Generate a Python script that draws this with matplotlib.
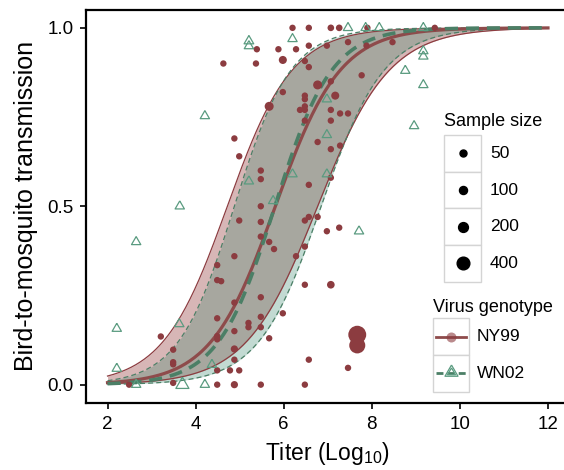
"""
Bird-to-mosquito transmission vs. viraemia titer, NY99 vs WN02 genotypes.
Logistic fits with confidence bands plus observed points sized by sample size.
"""

import numpy as np
import matplotlib
matplotlib.use("Agg")
import matplotlib.pyplot as plt
from matplotlib.patches import Rectangle
from matplotlib.lines import Line2D

plt.rcParams['font.family'] = ['Liberation Sans', 'DejaVu Sans']
plt.rcParams['mathtext.fontset'] = 'custom'
plt.rcParams['mathtext.rm'] = 'Liberation Sans'

# -----------------------------------------------------------------------
# Data
# -----------------------------------------------------------------------

# NY99 observations: titer, proportion transmitting, sample size
ny_x = [6.20, 6.57, 7.07, 7.26, 7.90, 9.43,
        6.57, 6.98, 7.46, 7.88, 8.47,
        5.39, 5.88, 6.28,
        4.63, 5.37, 5.98, 6.48, 6.57,
        7.77,
        5.98, 6.77, 7.07, 7.17,
        6.48, 6.48, 6.48, 6.48, 6.37,
        7.07, 7.28, 7.46,
        6.48, 7.07,
        5.67,
        4.88, 4.99,
        6.77, 7.07, 7.28,
        5.48, 5.48,
        6.57, 7.07,
        5.48,
        4.99, 5.48, 6.48, 6.57, 6.77,
        6.98, 7.26,
        5.48, 5.67, 5.78,
        6.48, 6.28,
        4.88,
        4.49,
        4.49, 4.58,
        6.48, 7.07,
        4.88, 5.48,
        5.98,
        4.49,
        5.20, 5.20,
        5.48, 5.48,
        4.88,
        4.49, 4.49,
        5.67,
        3.21,
        3.49,
        4.88, 4.88,
        3.49, 3.49,
        6.57,
        4.49, 4.78, 4.99,
        7.46,
        3.49,
        2.49,
        4.49, 4.88, 5.48, 6.48,
        7.67, 7.67]
ny_y = [1.00, 1.00, 1.00, 1.00, 1.00, 1.00,
        0.95, 0.95, 0.96, 0.95, 0.96,
        0.94, 0.94, 0.94,
        0.90, 0.90, 0.91, 0.907, 0.89,
        0.867,
        0.82, 0.84, 0.85, 0.81,
        0.81, 0.80, 0.78, 0.77, 0.77,
        0.77, 0.76, 0.76,
        0.74, 0.74,
        0.78,
        0.69, 0.64,
        0.68, 0.66, 0.67,
        0.60, 0.576,
        0.56, 0.58,
        0.50,
        0.46, 0.456, 0.46, 0.47, 0.47,
        0.43, 0.44,
        0.415, 0.40, 0.38,
        0.387, 0.36,
        0.36,
        0.335,
        0.293, 0.29,
        0.28, 0.28,
        0.23, 0.245,
        0.20,
        0.186,
        0.173, 0.161,
        0.19, 0.161,
        0.15,
        0.136, 0.127,
        0.13,
        0.135,
        0.098,
        0.10, 0.07,
        0.063, 0.057,
        0.07,
        0.04, 0.04, 0.04,
        0.047,
        0.005,
        0.0,
        0.0, 0.0, 0.0, 0.0,
        0.14, 0.11]
ny_n = [25, 25, 35, 35, 25, 25,
        25, 25, 25, 25, 25,
        25, 25, 25,
        25, 25, 100, 25, 25,
        25,
        25, 150, 25, 100,
        25, 25, 25, 25, 25,
        25, 25, 25,
        25, 25,
        150,
        25, 25,
        25, 25, 25,
        25, 25,
        25, 25,
        25,
        25, 25, 25, 25, 25,
        25, 25,
        25, 25, 25,
        25, 25,
        25,
        25,
        25, 25,
        25, 80,
        25, 25,
        25,
        25,
        25, 25,
        25, 25,
        25,
        25, 25,
        25,
        25,
        25,
        60, 25,
        25, 25,
        25,
        25, 25, 25,
        25,
        25,
        25,
        25, 60, 25, 25,
        900, 700]

# WN02 observations
wn_x = [5.21, 5.21, 6.20, 7.46, 7.86, 8.17, 9.17,
        9.17, 9.17, 8.76, 9.17, 8.96,
        4.21,
        6.98, 6.98, 6.98, 6.20, 5.21, 5.76, 3.64,
        7.71,
        2.65,
        3.63,
        2.21,
        2.21,
        4.37,
        2.65, 3.70, 4.21]
wn_y = [0.963, 0.949, 0.969, 1.00, 1.00, 1.00, 1.00,
        0.935, 0.92, 0.88, 0.84, 0.725,
        0.753,
        0.80, 0.70, 0.59, 0.59, 0.57, 0.515, 0.50,
        0.43,
        0.40,
        0.17,
        0.157,
        0.045,
        0.056,
        0.0, 0.0, 0.0]
wn_n = [35, 25, 25, 25, 25, 25, 25,
        25, 25, 25, 25, 25,
        25,
        25, 25, 25, 25, 25, 25, 25,
        25,
        25,
        25,
        25,
        25,
        25,
        25, 150, 25]

# Logistic fits: (midpoint titer, slope)
ny_fit = (5.81, 1.36)
ny_upper = (4.72, 1.36)
ny_lower = (6.77, 1.23)
wn_fit = (5.80, 1.55)
wn_upper = (4.88, 1.56)
wn_lower = (6.85, 1.40)
titer_range = (2, 12)

size_breaks = [50, 100, 200, 400]
genotypes = ["NY99", "WN02"]

# -----------------------------------------------------------------------
# Styling
# -----------------------------------------------------------------------

RED_PT = "#8C3C40"
RED_LINE = "#8E4B4B"
RED_FILL = (125 / 255, 15 / 255, 15 / 255)
GREEN_PT = "#5A9B80"
GREEN_LINE = "#4B7F66"
GREEN_FILL = (56 / 255, 133 / 255, 107 / 255)
BOX_EDGE = "#D4D4D4"

W, H = 564, 470


def diam_px(n):
    """Marker diameter in pixels for a given sample size (area scale)."""
    return np.sqrt(33 + 0.32 * np.asarray(n, dtype=float))


def circle_s(n):
    return (0.72 * diam_px(n)) ** 2


TRI = [(0, 0.577), (-0.5, -0.289), (0.5, -0.289), (0, 0.577)]


def tri_s(n):
    width_pt = 1.45 * diam_px(n) * 0.72
    return (width_pt / 0.866) ** 2


def logistic(x, fit):
    mid, slope = fit
    return 1 / (1 + np.exp(-slope * (x - mid)))


def fx(px):
    return px / W


def fy(py):
    return 1 - py / H


# -----------------------------------------------------------------------
# Plot
# -----------------------------------------------------------------------

fig = plt.figure(figsize=(W / 100, H / 100), dpi=100)
ax = fig.add_axes([fx(85.5), fy(402.5), (570 - 85.5) / W, (402.5 - 10) / H])

xs = np.linspace(titer_range[0], titer_range[1], 300)

# confidence bands
ax.fill_between(xs, logistic(xs, ny_lower), logistic(xs, ny_upper),
                color=RED_FILL, alpha=0.3, lw=0, zorder=1)
ax.fill_between(xs, logistic(xs, wn_lower), logistic(xs, wn_upper),
                color=GREEN_FILL, alpha=0.3, lw=0, zorder=1.1)
for fit in (ny_upper, ny_lower):
    ax.plot(xs, logistic(xs, fit), color=RED_PT, lw=0.9, zorder=2)
for fit in (wn_upper, wn_lower):
    ax.plot(xs, logistic(xs, fit), color=GREEN_LINE, lw=0.9,
            dashes=(4, 2.5), zorder=2)

# observations
ax.scatter(ny_x, ny_y, s=circle_s(ny_n), color=RED_PT, lw=0, zorder=4)
ax.scatter(wn_x, wn_y, s=tri_s(wn_n), marker=TRI, facecolors='none',
           edgecolors=GREEN_PT, linewidths=0.9, zorder=4)

# fitted means
ax.plot(xs, logistic(xs, ny_fit), color=RED_LINE, lw=2.3, zorder=3)
ax.plot(xs, logistic(xs, wn_fit), color=GREEN_LINE, lw=2.6,
        dashes=(3.6, 2.2), zorder=3)

ax.set_xlim(1.5, 12.5)
ax.set_ylim(-0.05, 1.05)
ax.set_xticks([2, 4, 6, 8, 10, 12])
ax.set_yticks([0, 0.5, 1.0])
ax.set_yticklabels(["0.0", "0.5", "1.0"])
ax.tick_params(labelsize=13.5, length=4.5, width=1.2, color="black")
ax.tick_params(axis="x", pad=5.5)
ax.tick_params(axis="y", pad=4)
for sp in ax.spines.values():
    sp.set_linewidth(1.6)

ax.set_xlabel(r"Titer (Log$_{\mathregular{10}}$)", fontsize=16.5, labelpad=5)
ax.set_ylabel("Bird-to-mosquito transmission", fontsize=18, labelpad=7)

# -----------------------------------------------------------------------
# Legends (drawn as key boxes like the reference)
# -----------------------------------------------------------------------

# Sample size
fig.text(fx(444), fy(121), "Sample size", fontsize=13, va="center", ha="left")
box_top = 135
box_h = 36.7
for i, n in enumerate(size_breaks):
    top = box_top + i * box_h
    fig.add_artist(Rectangle((fx(444), fy(top + box_h)), 37 / W, box_h / H,
                             transform=fig.transFigure, facecolor="white",
                             edgecolor=BOX_EDGE, lw=1))
    cy = top + box_h / 2
    fig.add_artist(Line2D([fx(462.5)], [fy(cy)], marker="o", ls="none",
                          markersize=0.72 * diam_px(n), color="black",
                          transform=fig.transFigure))
    fig.text(fx(490), fy(cy), str(n), fontsize=12.5, va="center", ha="left")

# Virus genotype
fig.text(fx(432.7), fy(307), "Virus genotype", fontsize=13, va="center", ha="left")
gbox_top = 318.3
for i, g in enumerate(genotypes):
    top = gbox_top + i * box_h
    fig.add_artist(Rectangle((fx(432.7), fy(top + box_h)), 36.6 / W, box_h / H,
                             transform=fig.transFigure, facecolor="white",
                             edgecolor=BOX_EDGE, lw=1))
    cy = top + box_h / 2
    if g == "NY99":
        fig.add_artist(Line2D([fx(436), fx(466)], [fy(cy), fy(cy)], color=RED_LINE,
                              lw=2, transform=fig.transFigure))
        fig.add_artist(Line2D([fx(451)], [fy(cy)], marker="o", ls="none",
                              markersize=7.2, color=RED_PT, alpha=0.6, mew=0,
                              transform=fig.transFigure))
    else:
        fig.add_artist(Line2D([fx(436), fx(466)], [fy(cy), fy(cy)], color=GREEN_LINE,
                              lw=2, dashes=(2.5, 1.5), transform=fig.transFigure))
        for w in (13, 8):
            fig.add_artist(Line2D([fx(451)], [fy(cy - 1)], marker=TRI, ls="none",
                                  markersize=w * 0.72 / 0.866, mfc="none",
                                  mec=GREEN_PT, mew=0.9,
                                  transform=fig.transFigure))
    fig.text(fx(476.7), fy(cy), g, fontsize=12.5, va="center", ha="left")

fig.savefig("out.png", dpi=100)
